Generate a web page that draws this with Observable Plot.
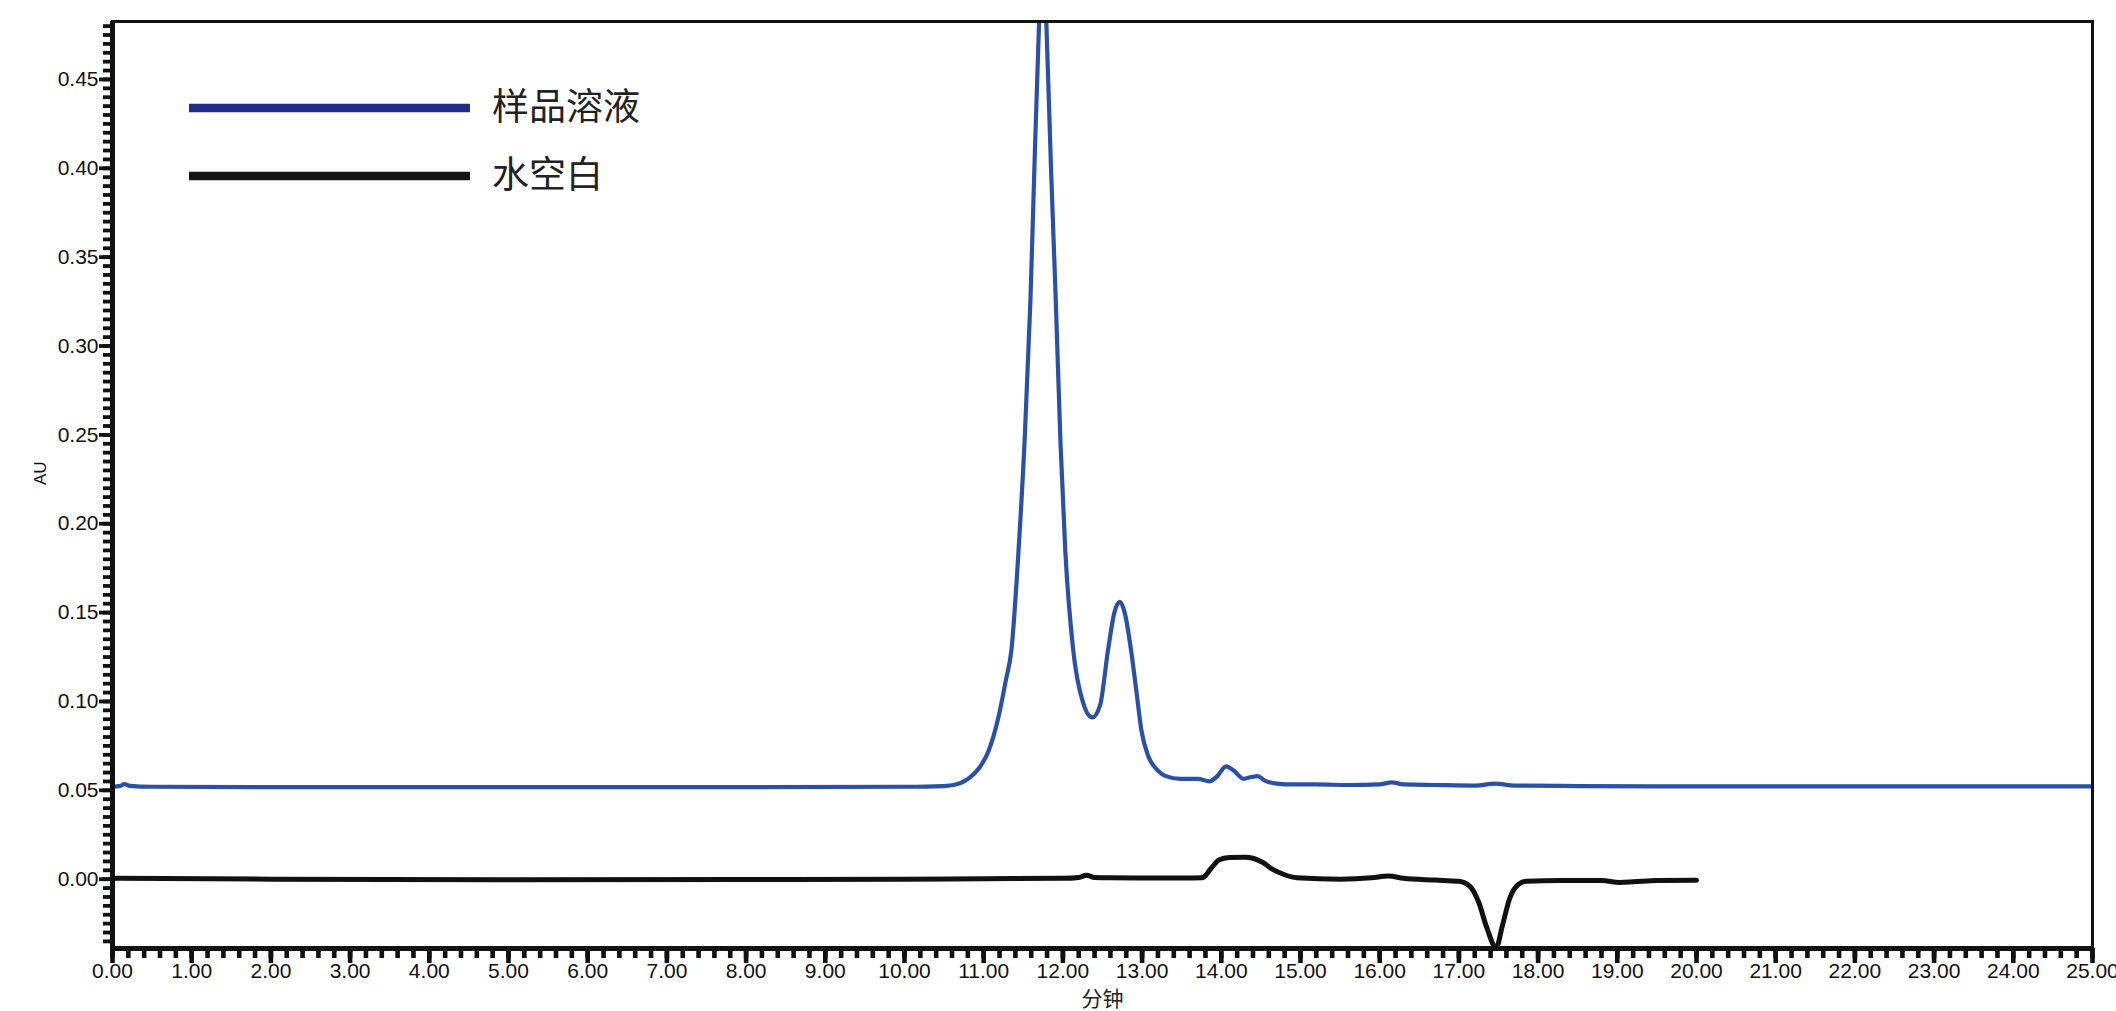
<!DOCTYPE html>
<html><head><meta charset="utf-8">
<script src="https://cdn.jsdelivr.net/npm/d3@7"></script>
<script src="https://cdn.jsdelivr.net/npm/@observablehq/plot@0.6"></script>
<style>
html,body{margin:0;padding:0;background:#fff;}
#wrap{position:relative;width:2116px;height:1011px;overflow:hidden;}
#legend{position:absolute;left:0;top:0;}
</style></head><body><div id="wrap"></div>
<script>
// 样品溶液 (sample solution)
const sampleTime = [0.00,0.10,0.15,0.22,0.5,2,5,8,10.0,10.5,10.7,10.82,10.95,11.06,11.18,11.28,11.35,11.44,11.52,11.59,11.64,11.70,11.745,11.79,11.85,11.91,11.97,12.03,12.13,12.25,12.37,12.47,12.57,12.65,12.72,12.78,12.86,12.93,12.99,13.08,13.18,13.30,13.48,13.70,13.85,13.95,14.06,14.16,14.28,14.38,14.46,14.55,14.70,14.90,15.2,15.6,16.0,16.15,16.3,16.7,17.2,17.46,17.7,18.5,19.5,21,25];
const sampleAU   = [0.052,0.0525,0.0535,0.0525,0.052,0.0518,0.0518,0.0518,0.052,0.0524,0.054,0.057,0.063,0.072,0.090,0.112,0.129,0.185,0.25,0.3256,0.40,0.483,0.53,0.483,0.40,0.3256,0.245,0.185,0.129,0.100,0.091,0.098,0.129,0.150,0.156,0.150,0.129,0.105,0.084,0.069,0.062,0.058,0.0565,0.0565,0.055,0.058,0.0635,0.061,0.0565,0.0575,0.058,0.0555,0.0538,0.0533,0.0533,0.053,0.0533,0.0545,0.0533,0.053,0.0527,0.0538,0.0527,0.0524,0.0522,0.0522,0.0522];
// 水空白 (water blank)
const blankTime = [0,0.05,2,5,8,10,11,12.0,12.2,12.3,12.4,12.6,13.0,13.5,13.76,13.87,13.97,14.1,14.3,14.4,14.52,14.65,14.8,14.95,15.5,15.9,16.11,16.3,16.7,17.0,17.14,17.25,17.35,17.47,17.55,17.64,17.75,17.85,18.3,18.8,19.03,19.2,19.5,20.0];
const blankAU   = [0.000,0.0005,0.0,-0.0003,-0.0002,0.0,0.0003,0.0005,0.001,0.0022,0.001,0.0008,0.0007,0.0006,0.0008,0.006,0.0108,0.0122,0.0124,0.0118,0.0095,0.0055,0.0025,0.0008,0.0,0.0008,0.0018,0.0005,-0.0005,-0.0012,-0.004,-0.013,-0.027,-0.0385,-0.026,-0.011,-0.003,-0.0012,-0.0008,-0.0008,-0.0018,-0.0015,-0.0008,-0.0006];

const seriesNames = ["样品溶液", "水空白"];
const lineColors = ["#2a51a6", "#111111"];
const legendColors = ["#1e2c85", "#161616"];
const xTickValues = d3.range(0, 26);
const yTickValues = d3.range(0, 10).map(i => +(i * 0.05).toFixed(2));
const xMinorTicks = d3.range(0, 126).map(i => +(i * 0.2).toFixed(2));
const yMinorTicks = d3.range(-7, 97).map(i => +(i * 0.005).toFixed(3));
const xAxisLabel = "分钟";
const yAxisLabel = "AU";
const yMin = -0.039, yMax = 0.4826;

const W = 2116, H = 1011, mL = 112, mR = 24, mT = 21, mB = 63;
const sample = sampleTime.map((t, i) => ({t, v: sampleAU[i]}));
const blank = blankTime.map((t, i) => ({t, v: blankAU[i]}));
const fmt = d3.format(".2f");

const chart = Plot.plot({
  width: W, height: H,
  marginLeft: mL, marginRight: mR, marginTop: mT, marginBottom: mB,
  x: {domain: [0, 25], label: null},
  y: {domain: [yMin, yMax], label: null},
  style: {fontFamily: "'Liberation Sans', Arial, sans-serif", fontSize: "21px", color: "#111", background: "#fff"},
  marks: [
    Plot.axisX({ticks: xMinorTicks, tickSize: 10, stroke: "#111111", strokeWidth: 4.6, text: null, label: null}),
    Plot.axisX({ticks: xTickValues, tickSize: 15, stroke: "#111111", strokeWidth: 4.6, tickPadding: 0, tickFormat: fmt, label: null, fontSize: 21}),
    Plot.axisY({ticks: yMinorTicks, tickSize: 9, stroke: "#111111", strokeWidth: 3.8, text: null, label: null}),
    Plot.axisY({ticks: yTickValues, tickSize: 13, stroke: "#111111", strokeWidth: 3.8, tickPadding: 1, tickFormat: fmt, label: null, fontSize: 21}),
    Plot.line(blank, {x: "t", y: "v", stroke: lineColors[1], strokeWidth: 5, curve: "monotone-x", clip: true}),
    Plot.line(sample, {x: "t", y: "v", stroke: lineColors[0], strokeWidth: 4.2, curve: "monotone-x", clip: true}),
    Plot.frame({stroke: "#111", strokeWidth: 3}),
    Plot.ruleX([0], {stroke: "#111", strokeWidth: 5}),
    Plot.ruleY([yMin], {stroke: "#111", strokeWidth: 5}),
    Plot.text([xAxisLabel], {text: d => d, frameAnchor: "bottom", dy: 51, fontSize: 21, fontFamily: "'Noto Sans CJK SC', sans-serif", lineAnchor: "middle", fill: "#222"}),
    Plot.text([yAxisLabel], {text: d => d, frameAnchor: "left", dx: -72, rotate: -90, fontSize: 17, lineAnchor: "middle", fill: "#111"})
  ]
});
const wrap = document.getElementById("wrap");
wrap.appendChild(chart);

// legend overlay
const leg = d3.select(wrap).append("svg").attr("id", "legend").attr("width", 720).attr("height", 230);
const rowsY = [108, 176];
seriesNames.forEach((name, i) => {
  leg.append("line").attr("x1", 189).attr("x2", 470).attr("y1", rowsY[i]).attr("y2", rowsY[i])
    .attr("stroke", legendColors[i]).attr("stroke-width", 8.5);
  leg.append("text").attr("x", 492).attr("y", rowsY[i] - 4).attr("dominant-baseline", "central")
    .attr("font-family", "'Noto Sans CJK SC', sans-serif").attr("font-size", 37).attr("fill", "#222").text(name);
});
</script></body></html>
